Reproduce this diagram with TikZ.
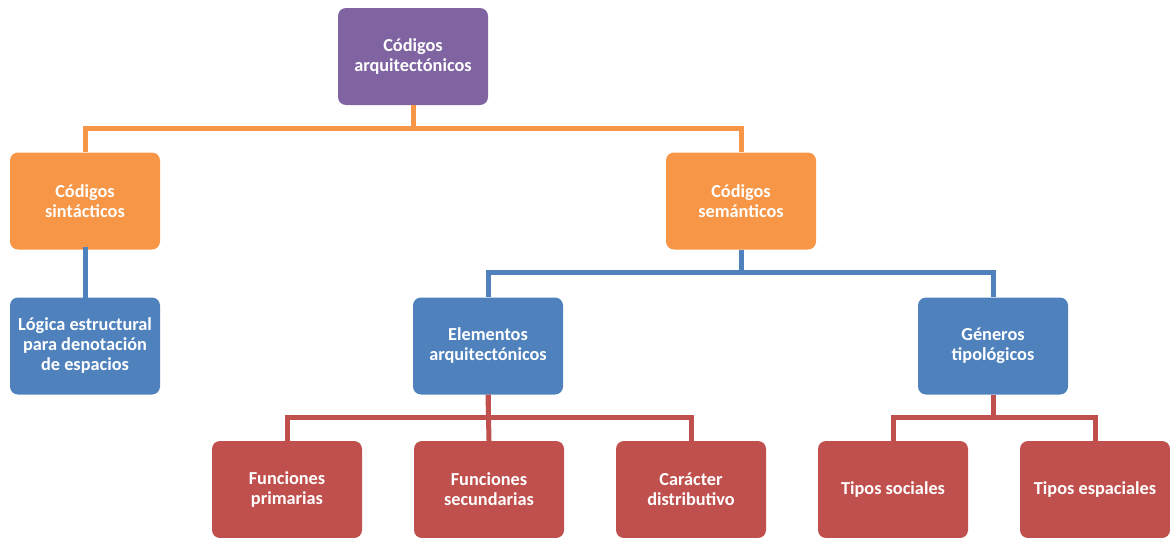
\documentclass[tikz,border=0pt]{standalone}
\usepackage{fontspec}
\setmainfont{Carlito}
\definecolor{cpurple}{HTML}{8064A2}
\definecolor{corange}{HTML}{F79646}
\definecolor{cblue}{HTML}{4F81BD}
\definecolor{cred}{HTML}{C0504D}
\begin{document}
\begin{tikzpicture}[x=1pt,y=-1pt,
  box/.style={rounded corners=8pt, minimum width=150pt, minimum height=97pt,
    align=center, text=white, font=\bfseries\fontsize{18.3}{20}\selectfont, inner sep=2pt},
  conn/.style={line width=5pt}]
\useasboundingbox (0,0) rectangle (1170,538);
\node[box, fill=cpurple] (top) at (413,56.5) {Códigos\\arquitectónicos};
\node[box, fill=corange] (sin) at (85,201) {Códigos\\sintácticos};
\node[box, fill=corange] (sem) at (741,201) {Códigos\\semánticos};
\node[box, fill=cblue] (log) at (85,346) {Lógica estructural\\para denotación\\de espacios};
\node[box, fill=cblue] (ele) at (488,346) {Elementos\\arquitectónicos};
\node[box, fill=cblue] (gen) at (993,346) {Géneros\\tipológicos};
\node[box, fill=cred] (fp) at (287,489.5) {Funciones\\primarias};
\node[box, fill=cred] (fs) at (489,489.5) {Funciones\\secundarias};
\node[box, fill=cred] (cd) at (691,489.5) {Carácter\\distributivo};
\node[box, fill=cred] (ts) at (893,489.5) {Tipos sociales};
\node[box, fill=cred] (te) at (1095,489.5) {Tipos espaciales};
\draw[conn, corange] (top.south) -- ++(0,23) -| (sin.north);
\draw[conn, corange] (top.south) -- ++(0,23) -| (sem.north);
\draw[conn, cblue] ([yshift=3pt]sin.south) -- ([yshift=-4pt]log.north);
\draw[conn, cblue] (sem.south) -- ++(0,22.5) -| (ele.north);
\draw[conn, cblue] (sem.south) -- ++(0,22.5) -| (gen.north);
\draw[conn, cred] (ele.south) -- ++(0,23) -| (fp.north);
\draw[conn, cred] (ele.south) -- ++(0,23) -| (cd.north);
\draw[conn, cred] (ele.south) -- (fs.north);
\draw[conn, cred] (gen.south) -- ++(0,23) -| (ts.north);
\draw[conn, cred] (gen.south) -- ++(0,23) -| (te.north);
\end{tikzpicture}
\end{document}
